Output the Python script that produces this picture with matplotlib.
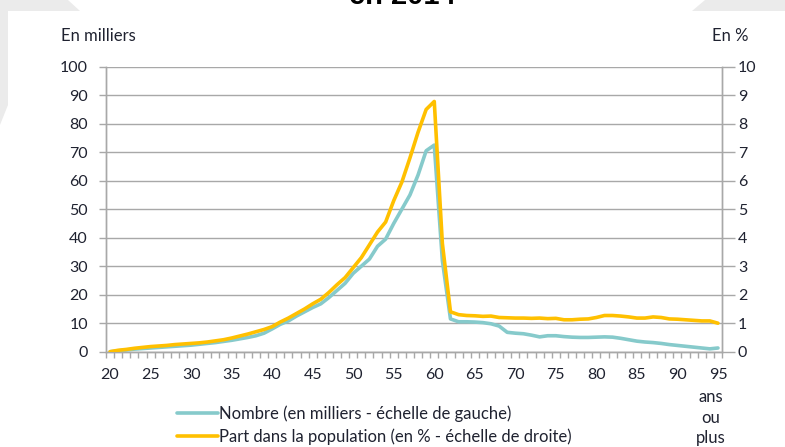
import matplotlib
matplotlib.use("Agg")
import matplotlib.pyplot as plt
from matplotlib.patches import Polygon
from matplotlib.lines import Line2D
import numpy as np

ages = list(range(20, 96))
nombre = [0.0, 0.3, 0.6, 0.9, 1.1, 1.3, 1.5, 1.7, 1.9, 2.1,
          2.3, 2.6, 2.9, 3.2, 3.6, 4.0, 4.5, 5.0, 5.6, 6.5,
          8.0, 9.6, 10.8, 12.5, 14.0, 15.5, 16.8, 19.0, 21.5, 24.0,
          27.5, 30.0, 32.5, 37.0, 39.5, 45.0, 50.0, 55.0, 62.0, 70.5,
          72.5, 32.0, 11.5, 10.5, 10.5, 10.4, 10.2, 9.8, 9.0, 6.8,
          6.5, 6.3, 5.8, 5.2, 5.6, 5.6, 5.3, 5.1, 5.0, 5.0,
          5.1, 5.2, 5.1, 4.7, 4.2, 3.7, 3.4, 3.2, 2.9, 2.5,
          2.2, 1.9, 1.6, 1.3, 1.0, 1.3]
part = [0.0, 0.05, 0.08, 0.12, 0.15, 0.18, 0.2, 0.22, 0.25, 0.27,
        0.29, 0.31, 0.34, 0.38, 0.42, 0.48, 0.55, 0.62, 0.7, 0.78,
        0.88, 1.04, 1.18, 1.34, 1.5, 1.68, 1.84, 2.08, 2.35, 2.6,
        2.95, 3.3, 3.75, 4.2, 4.55, 5.3, 5.95, 6.8, 7.7, 8.5,
        8.78, 3.8, 1.4, 1.3, 1.27, 1.26, 1.24, 1.25, 1.2, 1.19,
        1.18, 1.18, 1.17, 1.18, 1.16, 1.17, 1.12, 1.12, 1.14, 1.15,
        1.2, 1.27, 1.27, 1.25, 1.22, 1.18, 1.18, 1.22, 1.2, 1.15,
        1.14, 1.12, 1.1, 1.08, 1.08, 1.0]
xticks = list(range(20, 96, 5))
left_ticks = list(range(0, 101, 10))
right_ticks = list(range(0, 11))
label_nombre = "Nombre (en milliers - échelle de gauche)"
label_part = "Part dans la population (en % - échelle de droite)"

W, H = 785, 447
FONT = "Lato"
TXT = "#1F2230"
GRID = "#A8A8A8"
CYAN = "#86CACB"
YELLOW = "#FFC000"
FS = 12
FS_TICK = 11.5

fig = plt.figure(figsize=(W / 100, H / 100), dpi=100)
fig.patch.set_facecolor("white")

def px(x, y):
    return (x / W, 1 - y / H)

# background shapes
fig.patches.append(Polygon([px(0, 0), px(68, 0), px(80, 11), px(8, 11), px(8, 105), px(0, 125)],
                           closed=True, transform=fig.transFigure, facecolor="#EBEBEB",
                           edgecolor="none", zorder=0))
fig.patches.append(Polygon([px(705, 0), px(785, 0), px(785, 11), px(692, 11)],
                           closed=True, transform=fig.transFigure, facecolor="#EBEBEB",
                           edgecolor="none", zorder=0))

fig.text(402 / W, 1 - 4 / H, "en 2014", ha="center", va="baseline",
         fontsize=21, fontweight="bold", family="Liberation Sans", color="black")

l, r, b, t = 106, 722, 351.7, 66.7
ax = fig.add_axes([l / W, 1 - b / H, (r - l) / W, (b - t) / H])
ax2 = ax.twinx()

ax.plot(ages, nombre, color=CYAN, lw=2.6, solid_capstyle="round", solid_joinstyle="round", zorder=3)
ax2.plot(ages, part, color=YELLOW, lw=2.6, solid_capstyle="round", solid_joinstyle="round", zorder=3)

ax.set_xlim(19.5, 95.5)
ax.set_ylim(0, 100)
ax2.set_ylim(0, 10)

ax.set_yticks(left_ticks)
ax2.set_yticks(right_ticks)
ax.set_xticks(xticks)
ax.set_xticks(np.arange(19.5, 96, 1), minor=True)

ax.grid(axis="y", color=GRID, lw=1.0)
ax.set_axisbelow(True)

for a in (ax, ax2):
    a.spines["top"].set_visible(False)
    for s in ("left", "right", "bottom"):
        a.spines[s].set_color(GRID)
        a.spines[s].set_linewidth(1.0)
ax2.patch.set_visible(False)

ax.tick_params(axis="y", direction="out", length=5, width=1.0, color=GRID, pad=8,
               labelsize=FS_TICK, labelcolor=TXT)
ax2.tick_params(axis="y", direction="out", length=9.4, width=1.0, color=GRID, pad=2,
                labelsize=FS_TICK, labelcolor=TXT)
ax.tick_params(axis="x", which="major", length=0, pad=12, labelsize=FS_TICK, labelcolor=TXT)
ax.tick_params(axis="x", which="minor", direction="out", length=4, width=1.0, color=GRID)

for lab in ax.get_xticklabels() + ax.get_yticklabels() + ax2.get_yticklabels():
    lab.set_family(FONT)

fig.text(61 / W, 1 - 36 / H, "En milliers", ha="left", va="center", fontsize=FS,
         family=FONT, color=TXT)
fig.text(748 / W, 1 - 36 / H, "En %", ha="right", va="center", fontsize=FS,
         family=FONT, color=TXT)
fig.text(711 / W, 1 - 397 / H, "ans", ha="center", va="center", fontsize=FS, family=FONT, color=TXT)
fig.text(711 / W, 1 - 418 / H, "ou", ha="center", va="center", fontsize=FS, family=FONT, color=TXT)
fig.text(711 / W, 1 - 438 / H, "plus", ha="center", va="center", fontsize=FS, family=FONT, color=TXT)

# legend
handles = [Line2D([], [], color=CYAN, lw=2.6, solid_capstyle="round"),
           Line2D([], [], color=YELLOW, lw=2.6, solid_capstyle="round")]
leg = fig.legend(handles, [label_nombre, label_part], loc="center left",
                 bbox_to_anchor=(177 / W, 1 - 425 / H), frameon=False,
                 prop={"family": FONT, "size": FS}, handlelength=2.45,
                 handletextpad=0.05, labelspacing=0.37, borderpad=0, borderaxespad=0)
for txt in leg.get_texts():
    txt.set_color(TXT)

fig.savefig("out.png", dpi=100, facecolor="white")
